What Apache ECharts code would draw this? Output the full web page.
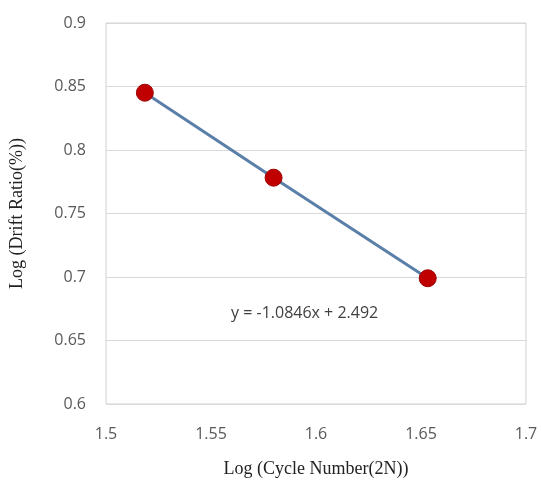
<!DOCTYPE html>
<html>
<head>
<meta charset="utf-8">
<script src="https://cdn.jsdelivr.net/npm/echarts@6/dist/echarts.min.js"></script>
<style>
  html, body { margin: 0; padding: 0; background: #fff; }
  #main { width: 541px; height: 483px; }
</style>
</head>
<body>
<div id="main"></div>
<script>
// log(2N) vs log(drift ratio %)
var cycleLog = [1.5185, 1.5798, 1.6532];
var driftLog = [0.8451, 0.7782, 0.6990];
var trendText = 'y = -1.0846x + 2.492';

var points = cycleLog.map(function (x, i) { return [x, driftLog[i]]; });

var myChart = echarts.init(document.getElementById('main'));
var labelStyle = { color: '#595959', fontSize: 16, fontFamily: 'Open Sans' };
var option = {
    animation: false,
    grid: {
        left: 102, right: 15, top: 23, bottom: 76,
        show: true, borderColor: '#d0d0d0', borderWidth: 1
    },
    xAxis: {
        type: 'value', min: 1.5, max: 1.7, interval: 0.05,
        name: 'Log (Cycle Number(2N))',
        nameLocation: 'middle', nameGap: 56,
        nameTextStyle: { fontFamily: 'Liberation Serif', fontSize: 18, color: '#222' },
        axisLine: { show: false },
        axisTick: { show: false },
        splitLine: { show: false },
        axisLabel: Object.assign({ margin: 22 }, labelStyle)
    },
    yAxis: {
        type: 'value', min: 0.6, max: 0.9, interval: 0.05,
        name: 'Log (Drift Ratio(%))',
        nameLocation: 'middle', nameGap: 80,
        nameTextStyle: { fontFamily: 'Liberation Serif', fontSize: 18, color: '#222' },
        axisLine: { show: false },
        axisTick: { show: false },
        splitLine: { lineStyle: { color: '#d9d9d9', width: 1 } },
        axisLabel: Object.assign({ margin: 20 }, labelStyle)
    },
    graphic: [{
        type: 'text', left: 231, top: 305,
        style: { text: trendText, fill: '#404040', fontSize: 16, fontFamily: 'Open Sans' }
    }],
    series: [{
        type: 'line',
        data: points,
        symbol: 'circle',
        symbolSize: 17,
        lineStyle: { color: '#5a7fa8', width: 3 },
        itemStyle: { color: '#c00000', borderColor: '#9a0000', borderWidth: 1 },
        z: 3
    }]
};
myChart.setOption(option);
</script>
</body>
</html>
